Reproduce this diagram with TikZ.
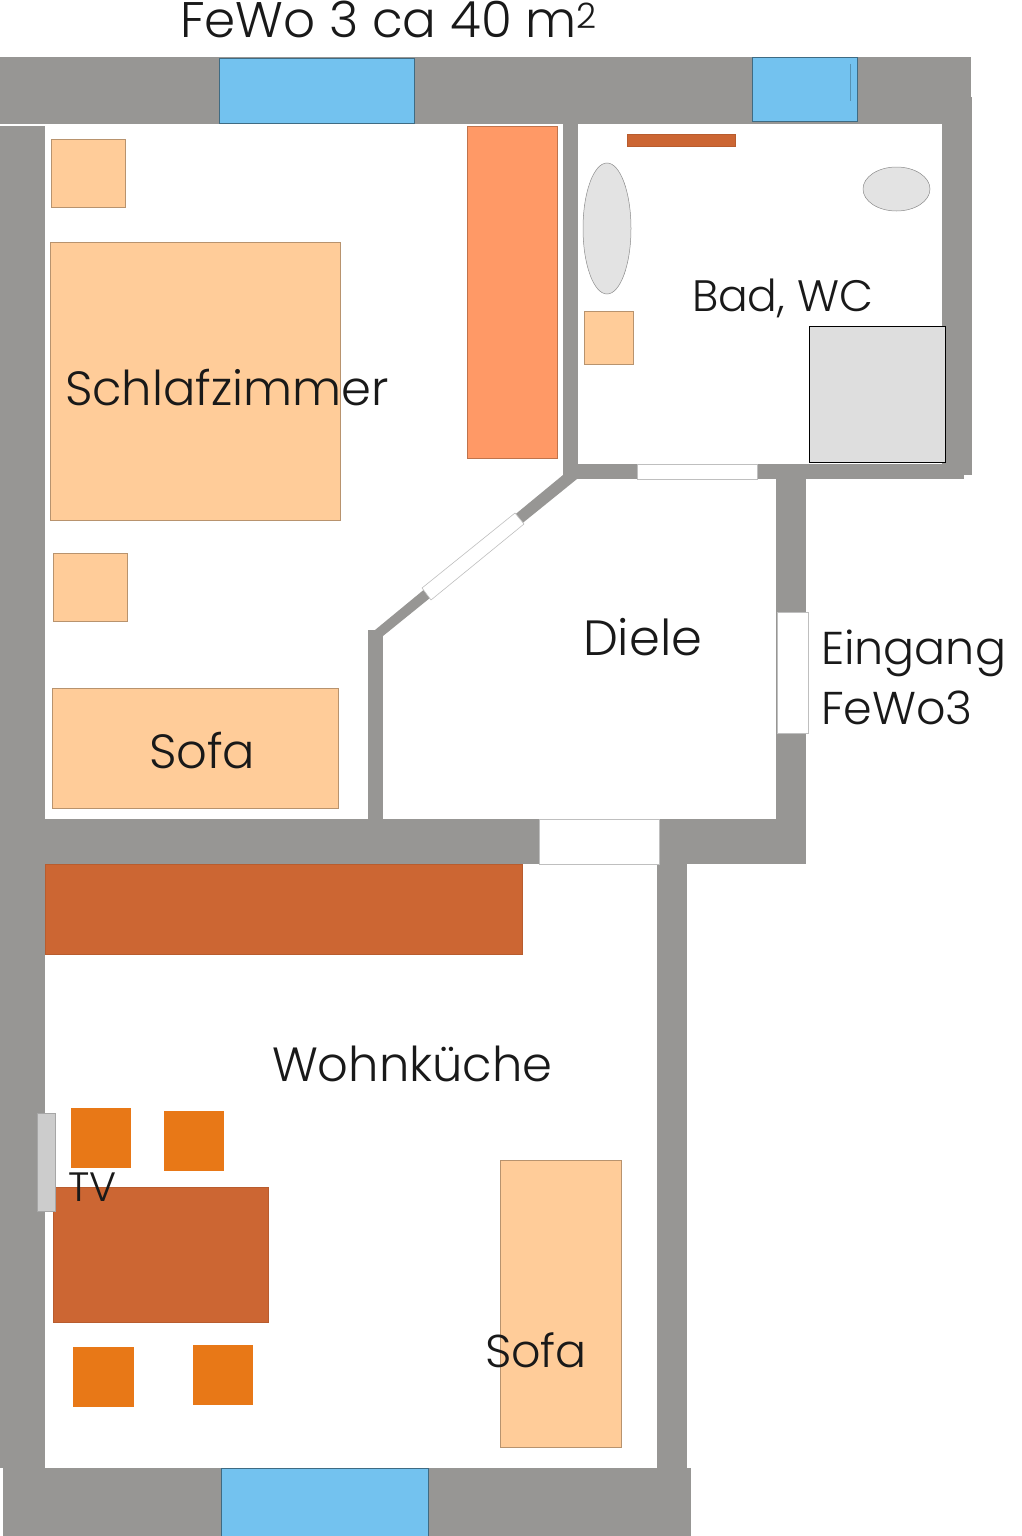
\documentclass[tikz,border=0pt]{standalone}
\usepackage{fontspec}
\setmainfont{Poppins Light}
\definecolor{wallgray}{HTML}{979694}
\definecolor{glassblue}{HTML}{73C2EF}
\definecolor{peach}{HTML}{FFCC99}
\definecolor{wardrobe}{HTML}{FF9966}
\definecolor{brownwood}{HTML}{CC6633}
\definecolor{chairorange}{HTML}{E87817}
\begin{document}
\begin{tikzpicture}[x=1pt,y=-1pt,wall/.style={fill=wallgray,draw=none},pane/.style={fill=glassblue,draw=black!45!glassblue,line width=0.6pt},opening/.style={fill=white,draw=black!25,line width=0.6pt},soft/.style={fill=peach,draw=black!28!peach,line width=0.6pt},wood/.style={fill=brownwood,draw=black!10!brownwood,line width=0.6pt},chair/.style={fill=chairorange,draw=none},sanitary/.style={fill=black!11,draw=black!45,line width=0.5pt},labelsize/.style={font=\fontsize{#1pt}{#1pt}\selectfont},every node/.style={anchor=base west,inner sep=0pt,outer sep=0pt,text=black!90}]
\useasboundingbox (0,0) rectangle (1022,1536);
% walls
\fill[wall] (0,57) rectangle (971,124);
\fill[wall] (942,97) rectangle (972,475);
\fill[wall] (0,126) rectangle (45,1468);
\fill[wall] (563,124) rectangle (578,475);
\fill[wall] (563,464) rectangle (964,479);
\fill[wall] (776,479) rectangle (806,819);
\fill[wall] (563,475) -- (577,479) -- (383,636) -- (375,632) -- (368,630) -- (375,630) -- cycle;
\fill[wall] (368,630) rectangle (383,819);
\fill[wall] (45,819) rectangle (806,864);
\fill[wall] (657,864) rectangle (687,1468);
\fill[wall] (3,1468) rectangle (691,1536);
% windows
\draw[pane] (219,58) rectangle (414,123);
\draw[pane] (752,57) rectangle (857,121);
\draw[black!25!glassblue] (850,64) -- (850,101);
\draw[pane] (221,1468) rectangle (428,1536);
% doors
\draw[opening] (637,464) rectangle (757,479);
\draw[opening] (422,588) -- (515,513) -- (524,524) -- (431,600) -- cycle;
\draw[opening] (777,612) rectangle (808,733);
\draw[opening] (539,819) rectangle (659,864);
% bedroom
\draw[soft] (51,139) rectangle (125,207);
\draw[soft] (50,242) rectangle (340,520);
\draw[soft] (53,553) rectangle (127,621);
\draw[soft] (52,688) rectangle (338,808);
\draw[fill=wardrobe,draw=black!25!wardrobe,line width=0.6pt] (467,126) rectangle (557,458);
% bath
\draw[wood] (627,134) rectangle (735,146);
\draw[sanitary] (607,228.5) ellipse [x radius=24,y radius=65.5];
\draw[sanitary] (896.5,189) ellipse [x radius=33.5,y radius=22];
\draw[soft] (584,311) rectangle (633,364);
\draw[fill=black!13,draw=black,line width=0.7pt] (809,326) rectangle (945,462);
% kitchen
\draw[wood] (45,864) rectangle (522,954);
\fill[chair] (71,1108) rectangle (131,1168);
\fill[chair] (164,1111) rectangle (224,1171);
\fill[chair] (73,1347) rectangle (134,1407);
\fill[chair] (193,1345) rectangle (253,1405);
\draw[wood] (53,1187) rectangle (268,1322);
\draw[fill=black!20,draw=black!35,line width=0.6pt] (37,1113) rectangle (55,1211);
\draw[soft] (500,1160) rectangle (621,1447);
% labels
\node[labelsize=50] (title) at (180,38) {FeWo 3 ca 40 m\textsuperscript{2}};
\node[labelsize=44] (bad) at (692,311) {Bad, WC};
\node[labelsize=48] (schlafzimmer) at (65,405) {Schlafzimmer};
\node[labelsize=49.5] (diele) at (583,655) {Diele};
\node[labelsize=48] (sofaoben) at (149,768) {Sofa};
\node[labelsize=46] (eingang) at (821,664) {Eingang};
\node[labelsize=46] (fewo) at (821,724) {FeWo3};
\node[labelsize=48] (wohnkueche) at (272,1081) {Wohnküche};
\node[labelsize=41] (tv) at (68,1201) {TV};
\node[labelsize=46] (sofaunten) at (485,1367) {Sofa};
\end{tikzpicture}
\end{document}
